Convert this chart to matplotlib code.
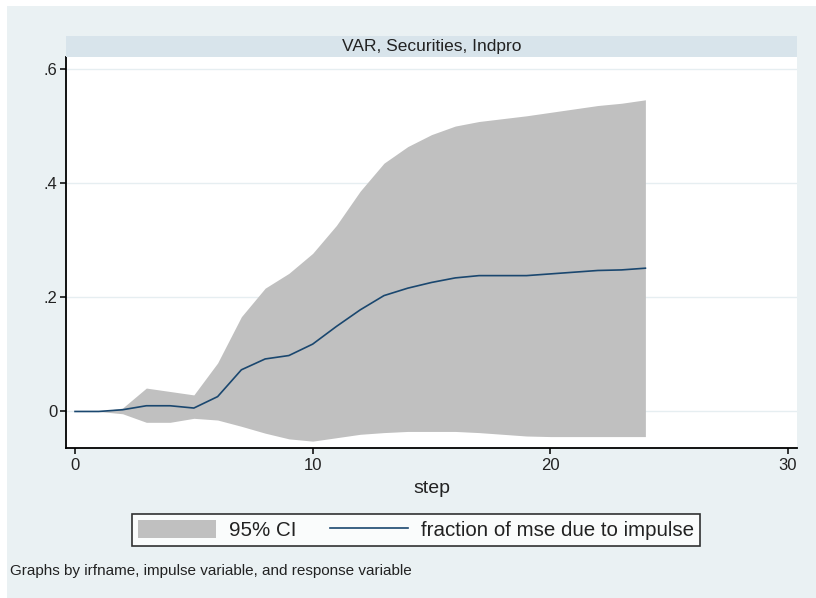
import matplotlib
matplotlib.use("Agg")
import matplotlib.pyplot as plt
from matplotlib.patches import Rectangle, Patch
from matplotlib.lines import Line2D

plt.rcParams['font.family'] = ['Liberation Sans', 'DejaVu Sans']

steps = list(range(25))
fraction = [0.0, 0.0, 0.003, 0.010, 0.010, 0.006, 0.026, 0.073, 0.092, 0.098,
            0.118, 0.149, 0.178, 0.203, 0.216, 0.226, 0.234, 0.238, 0.238, 0.238,
            0.241, 0.244, 0.247, 0.248, 0.251]
ci_upper = [0.0, 0.0, 0.006, 0.041, 0.035, 0.029, 0.085, 0.166, 0.216, 0.242,
            0.277, 0.326, 0.386, 0.435, 0.464, 0.485, 0.500, 0.508, 0.513, 0.518,
            0.524, 0.530, 0.536, 0.540, 0.546]
ci_lower = [0.0, 0.0, -0.004, -0.019, -0.019, -0.012, -0.015, -0.026, -0.038, -0.048,
            -0.052, -0.046, -0.040, -0.037, -0.035, -0.035, -0.035, -0.037, -0.040, -0.043,
            -0.044, -0.044, -0.044, -0.044, -0.044]
xticks = [0, 10, 20, 30]
yticks = [0, 0.2, 0.4, 0.6]
ytick_labels = ['0', '.2', '.4', '.6']
title = 'VAR, Securities, Indpro'
xlabel = 'step'
legend_labels = ['95% CI', 'fraction of mse due to impulse']
note = 'Graphs by irfname, impulse variable, and response variable'

W, H = 816, 598
bg = '#eaf1f3'
strip_col = '#d8e4eb'
ci_col = '#c0c0c0'
line_col = '#1a476f'
txt_col = '#222222'

fig = plt.figure(figsize=(W / 100, H / 100), dpi=100)
fig.patch.set_facecolor('white')

# outer graph region (light bluish gray) with thin white border
fig.patches.append(Rectangle((7 / W, 0), 1 - 7 / W, 1 - 6 / H, transform=fig.transFigure,
                             facecolor=bg, edgecolor='none', zorder=-10))

L, R, T, B = 66, 797, 57, 448
ax = fig.add_axes([L / W, 1 - B / H, (R - L) / W, (B - T) / H])
ax.set_facecolor('white')

ax.fill_between(steps, ci_lower, ci_upper, color=ci_col, linewidth=0, zorder=2)
ax.plot(steps, fraction, color=line_col, linewidth=1.2, zorder=3)

ax.set_xlim(-0.38, 30.38)
ax.set_ylim(-0.064, 0.621)
ax.set_xticks(xticks)
ax.set_xticklabels([str(t) for t in xticks])
ax.set_yticks(yticks)
ax.set_yticklabels(ytick_labels)
ax.yaxis.grid(True, color='#e6eef1', linewidth=1.0, zorder=1)
ax.set_axisbelow(True)
for s in ['top', 'right']:
    ax.spines[s].set_visible(False)
for s in ['left', 'bottom']:
    ax.spines[s].set_color('black')
    ax.spines[s].set_linewidth(1.3)
ax.tick_params(axis='both', direction='out', length=4, width=1.1, colors='black',
               labelsize=12, labelcolor=txt_col)
ax.tick_params(axis='y', pad=2)
ax.tick_params(axis='x', pad=3)
ax.set_xlabel(xlabel, fontsize=14, color=txt_col, labelpad=5)

# by-strip title
fig.patches.append(Rectangle((L / W, 1 - T / H), (R - L) / W, 21 / H, transform=fig.transFigure,
                             facecolor=strip_col, edgecolor='none', zorder=1))
fig.text((L + R) / 2 / W, 1 - 46.5 / H, title, ha='center', va='center', fontsize=12.5,
         color=txt_col)

handles = [Patch(facecolor=ci_col, edgecolor='none'),
           Line2D([0], [0], color=line_col, linewidth=1.2)]
leg = fig.legend(handles, legend_labels, loc='center', bbox_to_anchor=(416 / W, 1 - 530 / H),
                 ncol=2, frameon=True, fancybox=False, fontsize=14.8, handlelength=3.8,
                 handleheight=1.0, handletextpad=0.65, columnspacing=1.6, borderpad=0.3,
                 borderaxespad=0)
leg.get_frame().set_edgecolor('black')
leg.get_frame().set_linewidth(1.2)
leg.get_frame().set_facecolor('white')
for t in leg.get_texts():
    t.set_color(txt_col)

fig.text(10 / W, 1 - 571 / H, note, ha='left', va='center', fontsize=11, color=txt_col)

fig.savefig('out.png', dpi=100, facecolor=fig.get_facecolor())
